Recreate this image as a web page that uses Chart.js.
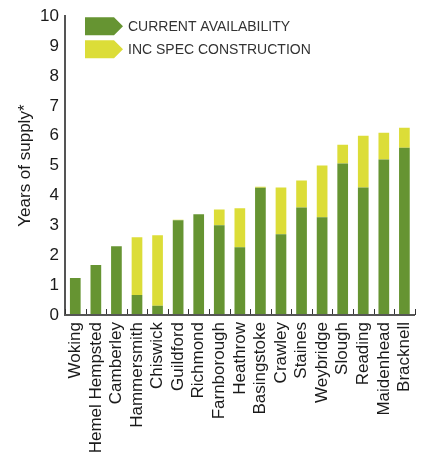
<!DOCTYPE html>
<html>
<head>
<meta charset="utf-8">
<script src="https://cdn.jsdelivr.net/npm/chart.js@4"></script>
<style>
  html, body { margin: 0; padding: 0; background: #fff; }
  #wrap { width: 432px; height: 457px; }
</style>
</head>
<body>
<div id="wrap"><canvas id="chart"></canvas></div>
<script>
// Office locations, ordered by total years of supply
const categories = [
  'Woking', 'Hemel Hempsted', 'Camberley', 'Hammersmith', 'Chiswick',
  'Guildford', 'Richmond', 'Farnborough', 'Heathrow', 'Basingstoke',
  'Crawley', 'Staines', 'Weybridge', 'Slough', 'Reading', 'Maidenhead', 'Bracknell'
];

// Years of supply from space available today
const currentAvailability = [
  1.24, 1.67, 2.30, 0.67, 0.31, 3.17, 3.37, 3.00, 2.27, 4.26,
  2.70, 3.60, 3.27, 5.07, 4.27, 5.20, 5.60
];

// Additional years once speculative construction is included
const specConstruction = [
  0, 0, 0, 1.93, 2.36, 0.02, 0, 0.53, 1.30, 0.03,
  1.57, 0.90, 1.73, 0.63, 1.73, 0.90, 0.67
];

const seriesLabels = ['CURRENT AVAILABILITY', 'INC SPEC CONSTRUCTION'];
const yAxisMin = 0;
const yAxisMax = 10;
const yAxisStep = 1;

const GREEN = '#669432';
const YELLOW = '#dcdd38';
const FONT = '"Liberation Sans", Arial, Helvetica, sans-serif';

Chart.defaults.font.family = FONT;

// Legend drawn as arrow-shaped swatches inside the plot area
const arrowLegend = {
  id: 'arrowLegend',
  afterDraw(chart) {
    const { ctx, chartArea } = chart;
    const w = 38, h = 18, tip = 9;
    ctx.save();
    chart.data.datasets.forEach((ds, i) => {
      const x = chartArea.left + 20;
      const y = chartArea.top + 1 + i * 23;
      ctx.fillStyle = ds.backgroundColor;
      ctx.beginPath();
      ctx.moveTo(x, y);
      ctx.lineTo(x + w - tip, y);
      ctx.lineTo(x + w, y + h / 2);
      ctx.lineTo(x + w - tip, y + h);
      ctx.lineTo(x, y + h);
      ctx.closePath();
      ctx.fill();
      ctx.fillStyle = '#333';
      ctx.font = '14px ' + FONT;
      ctx.textBaseline = 'middle';
      ctx.textAlign = 'left';
      ctx.fillText(ds.label, x + w + 5, y + h / 2 + 0.5);
    });
    ctx.restore();
  }
};

// Short upward tick marks on the category axis, at the boundaries between categories
const innerTicks = {
  id: 'innerTicks',
  afterDatasetsDraw(chart) {
    const scale = chart.scales.x;
    const { ctx } = chart;
    const n = scale.ticks.length;
    const y0 = scale.top;
    const xs = [scale.left];
    for (let i = 1; i < n; i++) {
      xs.push((scale.getPixelForTick(i - 1) + scale.getPixelForTick(i)) / 2);
    }
    xs.push(scale.right);
    ctx.save();
    ctx.strokeStyle = '#333';
    ctx.lineWidth = 1;
    ctx.beginPath();
    xs.forEach((x) => {
      const px = Math.round(x) + 0.5;
      ctx.moveTo(px, y0);
      ctx.lineTo(px, y0 - 6);
    });
    ctx.stroke();
    // axis line drawn over the bar bases
    ctx.strokeStyle = '#555';
    ctx.lineWidth = 2;
    ctx.beginPath();
    ctx.moveTo(scale.left - 1, y0);
    ctx.lineTo(scale.right, y0);
    ctx.stroke();
    ctx.restore();
  }
};

new Chart(document.getElementById('chart'), {
  type: 'bar',
  data: {
    labels: categories,
    datasets: [
      {
        label: seriesLabels[0],
        data: currentAvailability,
        backgroundColor: GREEN,
        borderWidth: 0,
        barPercentage: 0.52,
        categoryPercentage: 1.0
      },
      {
        label: seriesLabels[1],
        data: specConstruction,
        backgroundColor: YELLOW,
        borderWidth: 0,
        barPercentage: 0.52,
        categoryPercentage: 1.0
      }
    ]
  },
  options: {
    responsive: true,
    maintainAspectRatio: false,
    animation: false,
    layout: { padding: { left: 0, right: 7, top: 15, bottom: 0 } },
    plugins: {
      legend: { display: false },
      tooltip: { enabled: false }
    },
    scales: {
      x: {
        stacked: true,
        offset: true,
        grid: {
          display: true,
          offset: true,
          drawOnChartArea: false,
          drawTicks: false
        },
        border: { display: true, color: '#555', width: 2 },
        ticks: {
          autoSkip: false,
          minRotation: 90,
          maxRotation: 90,
          padding: 7,
          color: '#1a1a1a',
          font: { size: 17 }
        },
        afterFit(scale) { scale.height = 142; }
      },
      y: {
        stacked: true,
        min: yAxisMin,
        max: yAxisMax,
        grid: { display: false, drawTicks: false },
        border: { display: true, color: '#555', width: 2 },
        ticks: {
          stepSize: yAxisStep,
          padding: 6,
          color: '#1a1a1a',
          font: { size: 17 }
        },
        title: {
          display: true,
          text: 'Years of supply*',
          color: '#1a1a1a',
          font: { size: 17 },
          padding: { top: 15, bottom: 0 }
        },
        afterFit(scale) { scale.width = 65; }
      }
    }
  },
  plugins: [innerTicks, arrowLegend]
});
</script>
</body>
</html>
